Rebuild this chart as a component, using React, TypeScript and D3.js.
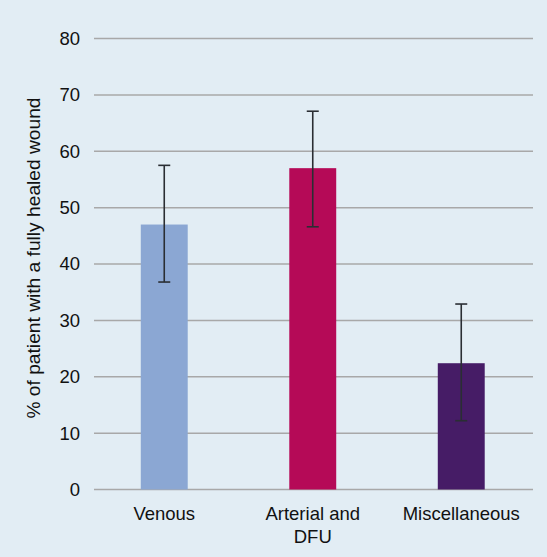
import React from "react";
import * as d3 from "d3";

const categories: string[][] = [["Venous"], ["Arterial and", "DFU"], ["Miscellaneous"]];
const values: number[] = [47.0, 57.0, 22.4];
const errLow: number[] = [36.8, 46.6, 12.2];
const errHigh: number[] = [57.5, 67.1, 32.9];
const colors: string[] = ["#8ba7d3", "#b50a57", "#461c66"];
const yTicks: number[] = [0, 10, 20, 30, 40, 50, 60, 70, 80];
const yLabel = "% of patient with a fully healed wound";

const W = 547;
const H = 557;

export default function App() {
  const x0 = 94;
  const x1 = 533;
  const y = d3.scaleLinear().domain([0, 80]).range([489.5, 38.5]);
  const keys = categories.map((_, i) => String(i));
  const x = d3.scaleBand<string>().domain(keys).range([90, 535.5]).paddingInner(0.684).paddingOuter(0.342);
  const font = "'Liberation Sans', Arial, Helvetica, sans-serif";

  return (
    <svg width={W} height={H} style={{ position: "absolute", left: 0, top: 0 }} fontFamily={font}>
      <rect x={0} y={0} width={W} height={H} fill="#e2edf4" />
      {yTicks.map((t) => (
        <g key={t}>
          <line x1={x0} x2={x1} y1={y(t)} y2={y(t)} stroke="#a8a8a8" strokeWidth={1.5} />
          <text x={80} y={y(t)} dy="0.35em" textAnchor="end" fontSize={18.5} fill="#111">
            {t}
          </text>
        </g>
      ))}
      {values.map((v, i) => {
        const bx = x(String(i))!;
        const bw = x.bandwidth();
        const cx = bx + bw / 2;
        return (
          <g key={i}>
            <rect x={bx} y={y(v)} width={bw} height={y(0) - y(v)} fill={colors[i]} />
            <line x1={cx} x2={cx} y1={y(errHigh[i])} y2={y(errLow[i])} stroke="#2a2e33" strokeWidth={1.6} />
            <line x1={cx - 6} x2={cx + 6} y1={y(errHigh[i])} y2={y(errHigh[i])} stroke="#2a2e33" strokeWidth={1.6} />
            <line x1={cx - 6} x2={cx + 6} y1={y(errLow[i])} y2={y(errLow[i])} stroke="#2a2e33" strokeWidth={1.6} />
            {categories[i].map((line, j) => (
              <text key={j} x={cx} y={520 + j * 23} textAnchor="middle" fontSize={18.5} fill="#111">
                {line}
              </text>
            ))}
          </g>
        );
      })}
      <text
        transform={`translate(40, 258) rotate(-90)`}
        textAnchor="middle"
        fontSize={19.2}
        fill="#111"
      >
        {yLabel}
      </text>
    </svg>
  );
}
